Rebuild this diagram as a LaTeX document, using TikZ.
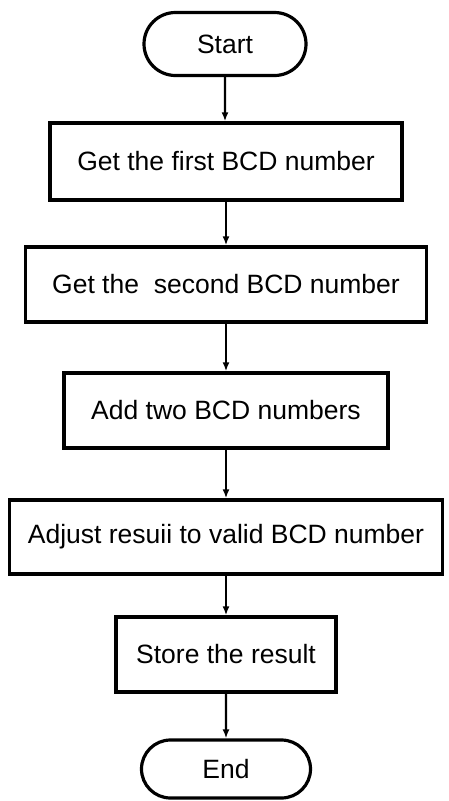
\documentclass[tikz,border=0pt]{standalone}
\usepackage{fontspec}
\setmainfont{Liberation Sans}
\usetikzlibrary{positioning, shapes.misc, arrows.meta}
\tikzset{
  termnode/.style={rounded rectangle, draw, line width=3.2pt, inner sep=0pt, font=\fontsize{26.5}{30}\selectfont},
  procnode/.style={rectangle, draw, line width=3.4pt, inner sep=0pt, font=\fontsize{26.5}{30}\selectfont},
  flowarrow/.style={line width=2.2pt, -{Latex[length=9pt,width=7pt]}}}

\begin{document}
\begin{tikzpicture}
\useasboundingbox (0pt,0pt) rectangle (448pt,-801pt);
\node [termnode, minimum width=162pt, minimum height=63pt] (start) at (225pt,-44pt) {Start};
\node [procnode, minimum width=352pt, minimum height=77pt] (getfirst) at (226pt,-161.5pt) {Get the first BCD number};
\node [procnode, minimum width=401pt, minimum height=75pt] (getsecond) at (226pt,-284.5pt) {Get the\ \ second BCD number};
\node [procnode, minimum width=324pt, minimum height=75pt] (addbcd) at (226pt,-410.5pt) {Add two BCD numbers};
\node [procnode, minimum width=433pt, minimum height=74pt] (adjust) at (226pt,-537pt) {Adjust resuii to valid BCD number};
\node [procnode, minimum width=220pt, minimum height=75pt] (store) at (226pt,-654.5pt) {Store the result};
\node [termnode, minimum width=169pt, minimum height=58pt] (finish) at (226pt,-769pt) {End};
% connectors
\draw [flowarrow] (start) -- (start |- getfirst.north);
\draw [flowarrow] (getfirst) -- (getsecond);
\draw [flowarrow] (getsecond) -- (addbcd);
\draw [flowarrow] (addbcd) -- (adjust);
\draw [flowarrow] (adjust) -- (store);
\draw [flowarrow] (store) -- (finish);
\end{tikzpicture}
\end{document}
